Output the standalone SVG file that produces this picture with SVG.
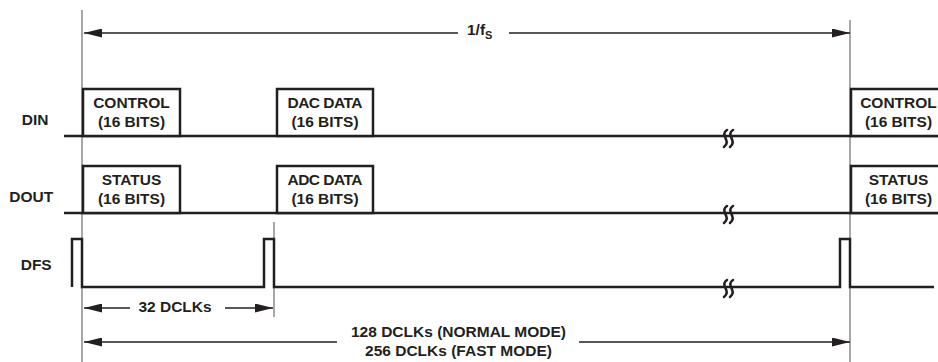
<svg xmlns="http://www.w3.org/2000/svg" width="938" height="362" viewBox="0 0 938 362">
<style>
text{font-family:"Liberation Sans",Arial,Helvetica,sans-serif;font-weight:bold;font-size:15.5px;fill:#231f20}
.mid{text-anchor:middle}
.sig{fill:none;stroke:#231f20;stroke-width:2.5;stroke-linejoin:miter}
.box{fill:#fff;stroke:#231f20;stroke-width:2.5}
.guide{stroke:#6d6d6d;stroke-width:1.2;fill:none}
.arr{stroke:#231f20;stroke-width:1.4;fill:none}
.brk{fill:none;stroke:#231f20;stroke-width:2.6;stroke-linecap:round}
</style>
<defs>
<marker id="ah" viewBox="0 0 18 9" markerWidth="18" markerHeight="9" refX="18" refY="4.5" markerUnits="userSpaceOnUse" orient="auto-start-reverse">
<path d="M0,0 L18,4.5 L0,9 z" fill="#231f20"/>
</marker>
<g id="brkSym">
<path class="brk" d="M-1,-8 C-9,-3 4,3 -4,9 M5,-8 C-3,-3 10,3 2,9"/>
</g>
</defs>

<g id="guides">
<line class="guide" x1="82" y1="10" x2="82" y2="362"/>
<line class="guide" x1="850" y1="20" x2="850" y2="362"/>
<line class="guide" x1="274" y1="222" x2="274" y2="317"/>
</g>

<g id="din">
<text x="21.7" y="125">DIN</text>
<line class="sig" x1="64" y1="136" x2="938" y2="136"/>
<g id="din-control">
<rect class="box" x="83" y="89" width="97" height="47"/>
<text class="mid" x="131.5" y="108">CONTROL</text>
<text class="mid" x="131.5" y="127">(16 BITS)</text>
</g>
<g id="din-dacdata">
<rect class="box" x="277" y="89" width="96" height="47"/>
<text class="mid" x="325" y="108" textLength="75">DAC DATA</text>
<text class="mid" x="325" y="127">(16 BITS)</text>
</g>
<g id="din-control2">
<rect class="box" x="851" y="89" width="97" height="47"/>
<text class="mid" x="898.5" y="108">CONTROL</text>
<text class="mid" x="898.5" y="127">(16 BITS)</text>
</g>
<use href="#brkSym" x="728" y="138"/>
</g>

<g id="dout">
<text x="9.3" y="202">DOUT</text>
<line class="sig" x1="64" y1="213" x2="938" y2="213"/>
<g id="dout-status">
<rect class="box" x="83" y="166" width="97" height="47"/>
<text class="mid" x="131.5" y="185">STATUS</text>
<text class="mid" x="131.5" y="203.5">(16 BITS)</text>
</g>
<g id="dout-adcdata">
<rect class="box" x="277" y="166" width="96" height="47"/>
<text class="mid" x="325" y="185" textLength="75">ADC DATA</text>
<text class="mid" x="325" y="203.5">(16 BITS)</text>
</g>
<g id="dout-status2">
<rect class="box" x="851" y="166" width="97" height="47"/>
<text class="mid" x="898.5" y="185">STATUS</text>
<text class="mid" x="898.5" y="203.5">(16 BITS)</text>
</g>
<use href="#brkSym" x="728" y="214"/>
</g>

<g id="dfs">
<text x="20.7" y="270">DFS</text>
<path class="sig" d="M72,287 V239 H82 V287 H264 V239 H274 V287 H840 V239 H850 V287 H934"/>
<use href="#brkSym" x="728" y="288"/>
</g>

<g id="connectors">
<line class="arr" x1="84" y1="33" x2="458" y2="33" marker-start="url(#ah)"/>
<line class="arr" x1="509" y1="33" x2="850" y2="33" marker-end="url(#ah)"/>
<line class="arr" x1="84" y1="308" x2="130" y2="308" marker-start="url(#ah)"/>
<line class="arr" x1="225" y1="308" x2="273" y2="308" marker-end="url(#ah)"/>
<line class="arr" x1="84" y1="342" x2="337" y2="342" marker-start="url(#ah)"/>
<line class="arr" x1="579" y1="342" x2="850" y2="342" marker-end="url(#ah)"/>
</g>

<g id="labels">
<text x="467" y="35">1/f<tspan font-size="11" dy="3.5">S</tspan></text>
<text class="mid" x="175" y="312">32 DCLKs</text>
<text class="mid" x="458.5" y="337">128 DCLKs (NORMAL MODE)</text>
<text class="mid" x="458.5" y="356">256 DCLKs (FAST MODE)</text>
</g>
</svg>
